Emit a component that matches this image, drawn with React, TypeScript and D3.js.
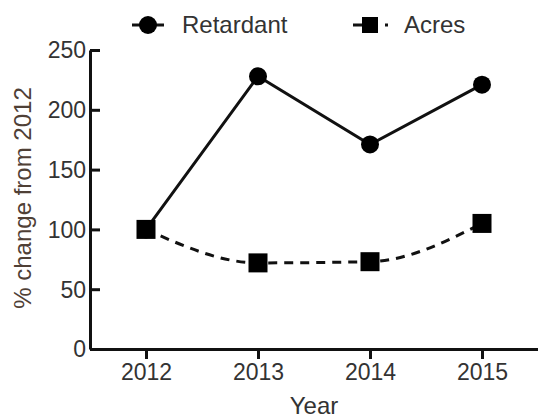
import React, { useEffect, useRef } from 'react';
import * as d3 from 'd3';

const years: number[] = [2012, 2013, 2014, 2015];
const retardant: number[] = [100, 228, 171, 221];
const acres: number[] = [100, 72, 73, 105];
const yTicks: number[] = [0, 50, 100, 150, 200, 250];
const seriesNames: string[] = ['Retardant', 'Acres'];

const width = 538;
const height = 418;
const font = 'Liberation Sans, Arial, sans-serif';
const textColor = '#333333';

const App: React.FC = () => {
	const ref = useRef<SVGSVGElement>(null);

	useEffect(() => {
		const svg = d3.select(ref.current);
		svg.selectAll('*').remove();

		const x = d3.scaleLinear().domain([2011.5, 2015.5]).range([90, 538]);
		const y = d3.scaleLinear().domain([0, 250]).range([349, 50]);

		// y axis, ticks pointing inward like the original
		const yAxis = d3.axisLeft(y).tickValues(yTicks).tickSizeInner(-10).tickSizeOuter(0).tickPadding(4);
		const gy = svg.append('g').attr('transform', `translate(${x(2011.5)},0)`).call(yAxis);
		gy.select('.domain').attr('stroke', '#111').attr('stroke-width', 3);
		gy.selectAll('.tick line').attr('stroke', '#111').attr('stroke-width', 3);
		gy.selectAll('.tick text')
			.attr('font-family', font)
			.attr('font-size', 23)
			.attr('fill', textColor)
			.attr('dy', '0.34em');

		const xAxis = d3.axisBottom(x).tickValues(years).tickFormat(d3.format('d')).tickSizeInner(10).tickSizeOuter(0).tickPadding(4);
		const gx = svg.append('g').attr('transform', `translate(0,${y(0)})`).call(xAxis);
		gx.select('.domain').attr('stroke', '#111').attr('stroke-width', 3);
		gx.selectAll('.tick line').attr('stroke', '#111').attr('stroke-width', 3);
		gx.selectAll('.tick text')
			.attr('font-family', font)
			.attr('font-size', 23)
			.attr('fill', textColor)
			.attr('dy', '0.72em');

		// axis titles
		svg.append('text')
			.attr('transform', `translate(31,198) rotate(-90)`)
			.attr('text-anchor', 'middle')
			.attr('font-family', font)
			.attr('font-size', 24)
			.attr('fill', '#4f4036')
			.text('% change from 2012');

		svg.append('text')
			.attr('x', (x(2011.5) + x(2015.5)) / 2)
			.attr('y', 414)
			.attr('text-anchor', 'middle')
			.attr('font-family', font)
			.attr('font-size', 24)
			.attr('fill', textColor)
			.text('Year');

		// Acres - dashed smooth curve with squares
		const acresLine = d3
			.line<number>()
			.x((d, i) => x(years[i]))
			.y((d) => y(d))
			.curve(d3.curveMonotoneX);
		svg.append('path')
			.attr('d', acresLine(acres))
			.attr('fill', 'none')
			.attr('stroke', '#111')
			.attr('stroke-width', 3)
			.attr('stroke-dasharray', '9,7');

		// Retardant - solid line with circles
		const retLine = d3
			.line<number>()
			.x((d, i) => x(years[i]))
			.y((d) => y(d));
		svg.append('path')
			.attr('d', retLine(retardant))
			.attr('fill', 'none')
			.attr('stroke', '#111')
			.attr('stroke-width', 3);

		svg.append('g')
			.selectAll('rect')
			.data(acres)
			.join('rect')
			.attr('x', (d, i) => x(years[i]) - 9.5)
			.attr('y', (d) => y(d) - 9.5)
			.attr('width', 19)
			.attr('height', 19)
			.attr('fill', '#000');

		svg.append('g')
			.selectAll('circle')
			.data(retardant)
			.join('circle')
			.attr('cx', (d, i) => x(years[i]))
			.attr('cy', (d) => y(d))
			.attr('r', 9)
			.attr('fill', '#000');

		// legend
		const lg = svg.append('g');
		lg.append('line').attr('x1', 132).attr('x2', 164).attr('y1', 25).attr('y2', 25).attr('stroke', '#111').attr('stroke-width', 3);
		lg.append('circle').attr('cx', 148).attr('cy', 25).attr('r', 9).attr('fill', '#000');
		lg.append('text')
			.attr('x', 182)
			.attr('y', 33)
			.attr('font-family', font)
			.attr('font-size', 24)
			.attr('fill', textColor)
			.text(seriesNames[0]);

		lg.append('line')
			.attr('x1', 353)
			.attr('x2', 388)
			.attr('y1', 25)
			.attr('y2', 25)
			.attr('stroke', '#111')
			.attr('stroke-width', 3)
			.attr('stroke-dasharray', '9,7');
		lg.append('rect').attr('x', 362).attr('y', 17).attr('width', 16).attr('height', 16).attr('fill', '#000');
		lg.append('text')
			.attr('x', 404)
			.attr('y', 33)
			.attr('font-family', font)
			.attr('font-size', 24)
			.attr('fill', textColor)
			.text(seriesNames[1]);
	}, []);

	return (
		<svg
			ref={ref}
			width={width}
			height={height}
			style={{ position: 'fixed', left: 0, top: 0, background: '#fff' }}
		/>
	);
};

export default App;
